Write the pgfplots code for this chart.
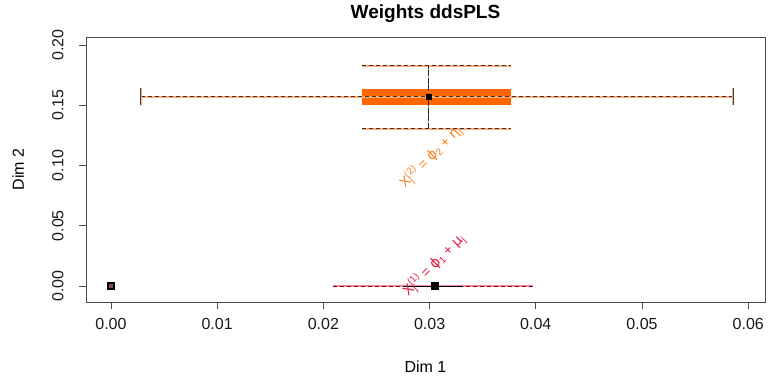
\documentclass[border=0pt]{standalone}
\usepackage{fontspec}
\setmainfont{Liberation Sans}
\newfontfamily\dejavu{DejaVu Sans}
\usepackage{pgfplots}
\pgfplotsset{compat=1.18}
\definecolor{boxor}{RGB}{255,102,0}
\definecolor{lightor}{RGB}{255,170,115}
\definecolor{txtor}{RGB}{255,128,30}
\definecolor{redc}{RGB}{228,26,64}
\definecolor{lightred}{RGB}{245,140,160}
\begin{document}
\begin{tikzpicture}[x=1pt,y=1pt]
\useasboundingbox (0,0) rectangle (771,375);
\begin{axis}[at={(86pt,73pt)}, anchor=south west, scale only axis,
  width=679pt, height=265pt,
  xmin=-0.00235, xmax=0.06158, ymin=-0.0133, ymax=0.2066,
  scaled x ticks=false, scaled y ticks=false,
  xtick={0,0.01,0.02,0.03,0.04,0.05,0.06},
  ytick={0,0.05,0.10,0.15,0.20},
  xticklabels={0.00,0.01,0.02,0.03,0.04,0.05,0.06},
  yticklabels={0.00,0.05,0.10,0.15,0.20},
  tick pos=left, tick align=outside, major tick length=7pt,
  axis line style={black!70, line width=0.8pt},
  tick style={black!70, line width=0.8pt},
  xticklabel style={font=\fontsize{16}{18}\selectfont, text=black!90},
  yticklabel style={font=\fontsize{16}{18}\selectfont, rotate=90, anchor=south, text=black!90},
  xticklabel shift=6pt, yticklabel shift=12pt,
  clip=false]
% orange box
\addplot[fill=boxor, draw=none] coordinates {(0.0236,0.1502) (0.0377,0.1502) (0.0377,0.1632) (0.0236,0.1632)} --cycle;
% orange lines (light solid under, dark dashed over)
\addplot[lightor, line width=1.8pt] coordinates {(0.0028,0.157) (0.0586,0.157)};
\addplot[black!80, line width=0.9pt, dash pattern=on 4pt off 3pt] coordinates {(0.0028,0.157) (0.0586,0.157)};
\addplot[lightor, line width=1.8pt] coordinates {(0.0236,0.1826) (0.0377,0.1826)};
\addplot[black!80, line width=0.9pt, dash pattern=on 4pt off 3pt] coordinates {(0.0236,0.1826) (0.0377,0.1826)};
\addplot[lightor, line width=1.8pt] coordinates {(0.0236,0.1303) (0.0377,0.1303)};
\addplot[black!80, line width=0.9pt, dash pattern=on 4pt off 3pt] coordinates {(0.0236,0.1303) (0.0377,0.1303)};
\addplot[lightor, line width=1.8pt] coordinates {(0.0299,0.1303) (0.0299,0.1826)};
\addplot[black!85, line width=0.9pt, dash pattern=on 6pt off 1.5pt] coordinates {(0.0299,0.1303) (0.0299,0.1826)};
\addplot[lightor, line width=1.8pt] coordinates {(0.0028,0.1505) (0.0028,0.1645)};
\addplot[black!75, line width=0.9pt] coordinates {(0.0028,0.1505) (0.0028,0.1645)};
\addplot[lightor, line width=1.8pt] coordinates {(0.0586,0.1505) (0.0586,0.1645)};
\addplot[black!75, line width=0.9pt] coordinates {(0.0586,0.1505) (0.0586,0.1645)};
\addplot[only marks, mark=square*, mark size=2.8pt, black] coordinates {(0.0299,0.157)};
% red component
\addplot[lightred, line width=1.6pt] coordinates {(0.02094,0) (0.0397,0)};
\addplot[red!50!black, line width=0.8pt, dash pattern=on 4pt off 3pt] coordinates {(0.02094,0) (0.0397,0)};
\addplot[black, line width=0.9pt] coordinates {(0.0275,0) (0.0331,0)};
\addplot[only marks, mark=square*, mark size=3.5pt, black] coordinates {(0.0305,0)};
\addplot[only marks, mark=square*, mark size=3.3pt, draw=black, fill=magenta!45!black, mark options={line width=2pt}] coordinates {(0,0)};
% labels
\node[rotate=45, text=txtor, font=\fontsize{14}{16}\selectfont] at (axis cs:0.0301,0.107)
  {X\makebox[0pt][l]{\textsubscript{j}}\textsuperscript{(2)} = {\dejavu ϕ}\textsubscript{2} + {\dejavu η}\textsubscript{j}};
\node[rotate=45, text=redc, font=\fontsize{14}{16}\selectfont] at (axis cs:0.0304,0.0175)
  {X\makebox[0pt][l]{\textsubscript{j}}\textsuperscript{(1)} = {\dejavu ϕ}\textsubscript{1} + {\dejavu μ}\textsubscript{j}};
\end{axis}
\node[font=\bfseries\fontsize{19}{22}\selectfont] at (425.5,361) {Weights ddsPLS};
\node[font=\fontsize{16}{18}\selectfont] at (425.5,8) {Dim 1};
\node[rotate=90, font=\fontsize{16}{18}\selectfont] at (18,205.5) {Dim 2};
\end{tikzpicture}
\end{document}
